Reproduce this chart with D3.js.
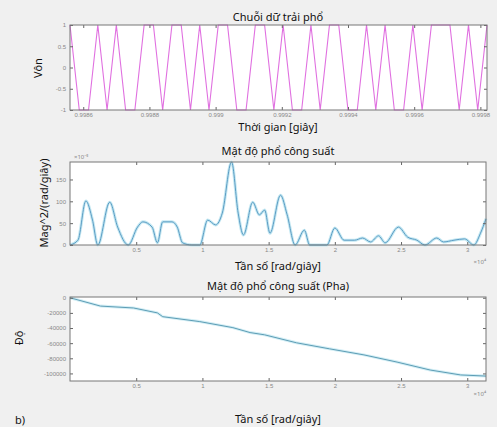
<!DOCTYPE html>
<html>
<head>
<meta charset="utf-8">
<script src="https://cdn.jsdelivr.net/npm/d3@7"></script>
<style>
  body { margin: 0; background: #f0f0f0; }
  svg { display: block; font-family: "Noto Sans", "Open Sans", sans-serif; }
  .tick text { fill: #888; font-size: 6px; }
  .tick line { stroke: #666; }
  .domain { stroke: none; }
</style>
</head>
<body>
<svg id="chart" width="497" height="427"></svg>
<script>
// spreading sequence (chip values, one per sample)
const chipValues = [1, -1, -1, 1, -1, 1, -1, -1, 1, 1, -1, 1, 1, -1, 1, -1, 1, 1, -1, -1, 1, 1, -1, 1, -1, -1,
                    1, -1, 1, 1, -1, -1, 1, -1, 1, -1, -1, 1, -1, 1, 1, 1, -1, 1, -1, 1];
const chipStart = 0.99856;
const chipStep = 0.000028;
const timeTicks = [0.9986, 0.9988, 0.999, 0.9992, 0.9994, 0.9996, 0.9998];
const voltTicks = [-1, -0.5, 0, 0.5, 1];

// power spectral density (x in 10^4 rad/s)
const psdFreq = [0, 0.06, 0.12, 0.17, 0.21, 0.30, 0.36, 0.44, 0.51, 0.55, 0.62, 0.66, 0.70, 0.77, 0.81, 0.85,
                 0.92, 0.98, 1.04, 1.10, 1.15, 1.22, 1.27, 1.31, 1.38, 1.43, 1.47, 1.51, 1.59, 1.64, 1.70, 1.77,
                 1.81, 1.94, 2.00, 2.07, 2.15, 2.21, 2.27, 2.33, 2.38, 2.48, 2.55, 2.62, 2.68, 2.77, 2.82, 2.90,
                 2.98, 3.05, 3.10, 3.1416];
const psdValues = [0, 11, 101, 57, 0, 98, 41, 0, 41, 53, 41, 5, 53, 53, 41, 5,
                   0, 0, 57, 46, 73, 190, 73, 23, 98, 69, 80, 27, 114, 69, 0, 34,
                   0, 0, 39, 11, 11, 16, 7, 21, 5, 41, 18, 11, 0, 16, 7, 11,
                   14, 0, 27, 60];
const freqTicks = [0.5, 1, 1.5, 2, 2.5, 3];
const psdTicks = [0, 50, 100, 150];

// phase
const phaseFreq = [0, 0.23, 0.48, 0.66, 0.70, 0.98, 1.23, 1.36, 1.47, 1.71, 1.96, 2.22, 2.47, 2.72, 2.95, 3.1416];
const phaseValues = [0, -11000, -13500, -20000, -25000, -31500, -39500, -46000, -49000, -59500, -67500,
                     -75500, -85000, -95500, -102000, -103500];
const phaseTicks = [-100000, -80000, -60000, -40000, -20000, 0];

const svg = d3.select("#chart");

function drawBackground(x, y) {
    const [x0, x1] = x.range();
    const [y0, y1] = y.range();
    const g = svg.append("g");
    g.append("rect")
        .attr("x", x0).attr("y", y1)
        .attr("width", x1 - x0).attr("height", y0 - y1)
        .attr("fill", "#fff");
    return g;
}

function finishAxes(g, x, y, xTicks, yTicks) {
    const [x0, x1] = x.range();
    const [y0, y1] = y.range();
    g.append("g")
        .attr("transform", `translate(0,${y0})`)
        .call(d3.axisBottom(x).tickValues(xTicks).tickFormat(d => String(d)).tickSize(-3).tickPadding(3));
    g.append("g")
        .attr("transform", `translate(0,${y1})`)
        .call(d3.axisTop(x).tickValues(xTicks).tickFormat("").tickSize(-3));
    g.append("g")
        .attr("transform", `translate(${x0},0)`)
        .call(d3.axisLeft(y).tickValues(yTicks).tickFormat(d => String(d)).tickSize(-3).tickPadding(4));
    g.append("g")
        .attr("transform", `translate(${x1},0)`)
        .call(d3.axisRight(y).tickValues(yTicks).tickFormat("").tickSize(-3));
    g.append("rect")
        .attr("x", x0).attr("y", y1)
        .attr("width", x1 - x0).attr("height", y0 - y1)
        .attr("fill", "none")
        .attr("stroke", "#777")
        .attr("stroke-width", 1);
}

function addText(txt, x, y, size, rotate) {
    const t = svg.append("text")
        .attr("x", x).attr("y", y)
        .attr("text-anchor", "middle")
        .attr("dominant-baseline", "middle")
        .attr("font-size", size)
        .attr("fill", "#111")
        .text(txt);
    if (rotate) t.attr("transform", `rotate(-90,${x},${y})`);
    return t;
}

function addExponent(txt, x, y, anchor) {
    svg.append("text")
        .attr("x", x).attr("y", y)
        .attr("text-anchor", anchor)
        .attr("font-size", 6)
        .attr("fill", "#888")
        .text(txt);
}

// ---- panel 1: chip sequence
const x1 = d3.scaleLinear().domain([chipStart, chipStart + chipStep * (chipValues.length - 1)]).range([70, 487]);
const y1 = d3.scaleLinear().domain([-1, 1]).range([110, 25]);
const g1 = drawBackground(x1, y1);
g1.append("path")
    .datum(chipValues)
    .attr("fill", "none")
    .attr("stroke", "#e070e0")
    .attr("stroke-width", 1.1)
    .attr("d", d3.line().x((d, i) => x1(chipStart + i * chipStep)).y(d => y1(d)));
finishAxes(g1, x1, y1, timeTicks, voltTicks);
addText("Chuỗi dữ trải phổ", 278, 18, 11);
addText("Thời gian [giây]", 278, 128, 11);
addText("Vôn", 39, 68, 11, true);

// ---- panel 2: power spectral density
const x2 = d3.scaleLinear().domain([0, Math.PI]).range([70, 486]);
const y2 = d3.scaleLinear().domain([0, 190]).range([245, 162]);
const g2 = drawBackground(x2, y2);
const psdLine = d3.line().x((d, i) => x2(psdFreq[i])).y(d => y2(d)).curve(d3.curveMonotoneX);
g2.append("path")
    .datum(psdValues)
    .attr("fill", "none")
    .attr("stroke", "#c5e8f2")
    .attr("stroke-width", 3)
    .attr("d", psdLine);
g2.append("path")
    .datum(psdValues)
    .attr("fill", "none")
    .attr("stroke", "#5b9cc4")
    .attr("stroke-width", 1)
    .attr("d", psdLine);
finishAxes(g2, x2, y2, freqTicks, psdTicks);
addText("Mật độ phổ công suất", 278, 152, 11);
addText("Tần số [rad/giây]", 278, 267, 11);
addText("Mag^2/(rad/giây)", 45, 203, 11, true);
addExponent("×10⁻⁵", 74, 159, "start");
addExponent("×10⁴", 486, 264, "end");

// ---- panel 3: phase
const x3 = d3.scaleLinear().domain([0, Math.PI]).range([70, 486]);
const y3 = d3.scaleLinear().domain([-110000, 1000]).range([381, 297]);
const g3 = drawBackground(x3, y3);
const phaseLine = d3.line().x((d, i) => x3(phaseFreq[i])).y(d => y3(d));
g3.append("path")
    .datum(phaseValues)
    .attr("fill", "none")
    .attr("stroke", "#d3eef5")
    .attr("stroke-width", 3)
    .attr("d", phaseLine);
g3.append("path")
    .datum(phaseValues)
    .attr("fill", "none")
    .attr("stroke", "#5d9db5")
    .attr("stroke-width", 1)
    .attr("d", phaseLine);
finishAxes(g3, x3, y3, freqTicks, phaseTicks);
addText("Mật độ phổ công suất (Pha)", 278, 287, 11);
addText("Tần số [rad/giây]", 278, 420, 11);
addText("Độ", 20, 338, 11, true);
addExponent("×10⁴", 486, 396, "end");
svg.append("text").attr("x", 15).attr("y", 424).attr("font-size", 11).attr("fill", "#111").text("b)");
</script>
</body>
</html>
